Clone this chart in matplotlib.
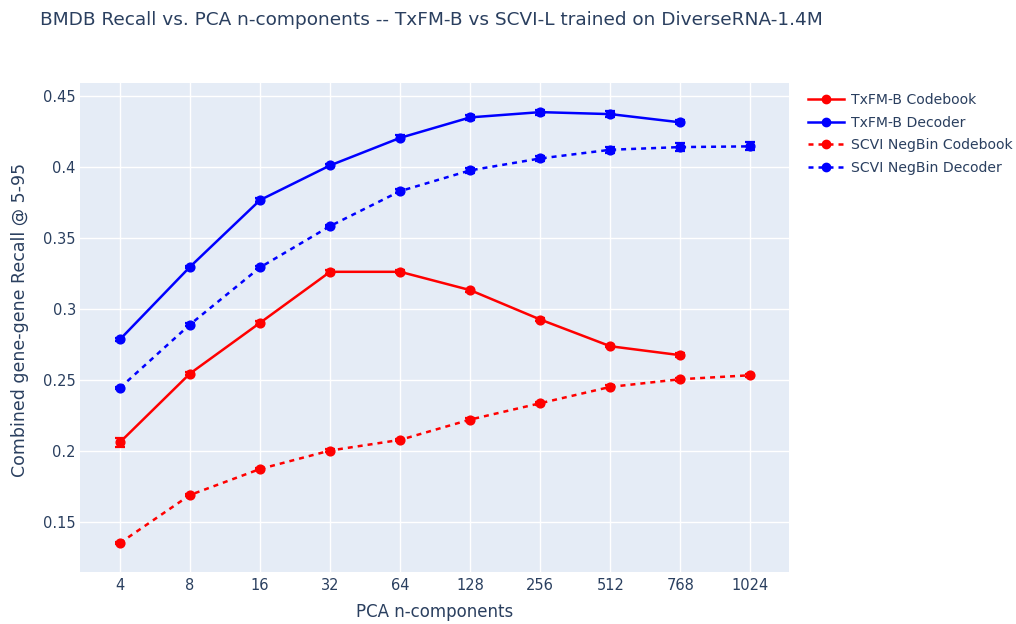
import matplotlib
matplotlib.use("Agg")
import matplotlib.pyplot as plt
from matplotlib.lines import Line2D

# categories on the x axis (PCA n-components)
n_components = ["4", "8", "16", "32", "64", "128", "256", "512", "768", "1024"]

# TxFM-B (no 1024 point)
txfm_codebook = [0.2063, 0.2547, 0.2904, 0.3263, 0.3263, 0.3134, 0.2927, 0.2739, 0.2676]
txfm_codebook_err = [0.003, 0.0012, 0.0012, 0.0012, 0.0010, 0.0010, 0.0010, 0.0008, 0.0015]
txfm_decoder = [0.2787, 0.3298, 0.3768, 0.4012, 0.4206, 0.4350, 0.4387, 0.4373, 0.4315]
txfm_decoder_err = [0.0008, 0.0008, 0.0012, 0.0010, 0.0018, 0.0015, 0.0018, 0.0020, 0.0015]

# SCVI NegBin
scvi_codebook = [0.1354, 0.1692, 0.1875, 0.2005, 0.2080, 0.2223, 0.2338, 0.2453, 0.2507, 0.2535]
scvi_codebook_err = [0.0010, 0.0008, 0.0008, 0.0008, 0.0008, 0.0010, 0.0010, 0.0010, 0.0010, 0.0012]
scvi_decoder = [0.2446, 0.2892, 0.3294, 0.3585, 0.3831, 0.3977, 0.4061, 0.4122, 0.4141, 0.4146]
scvi_decoder_err = [0.0005, 0.0008, 0.0008, 0.0008, 0.0015, 0.0015, 0.0018, 0.0022, 0.0028, 0.0028]

yticks = [0.15, 0.2, 0.25, 0.3, 0.35, 0.4, 0.45]
ytick_labels = ["0.15", "0.2", "0.25", "0.3", "0.35", "0.4", "0.45"]

series = [
    ("TxFM-B Codebook", txfm_codebook, txfm_codebook_err, "#ff0000", "-"),
    ("TxFM-B Decoder", txfm_decoder, txfm_decoder_err, "#0000ff", "-"),
    ("SCVI NegBin Codebook", scvi_codebook, scvi_codebook_err, "#ff0000", (0, (2, 2))),
    ("SCVI NegBin Decoder", scvi_decoder, scvi_decoder_err, "#0000ff", (0, (2, 2))),
]

text_color = "#2a3f5f"
plt.rcParams['font.family'] = ['DejaVu Sans']

fig = plt.figure(figsize=(10.16, 6.24), dpi=100)
ax = fig.add_axes([80/1016, 1-572/624, (789-80)/1016, (572-83)/624])
ax.set_facecolor("#e5ecf6")
for s in ax.spines.values():
    s.set_visible(False)

handles = []
for name, vals, errs, color, ls in series:
    xs = list(range(len(vals)))
    ax.plot(xs, vals, color=color, linestyle=ls, lw=1.8, zorder=3)
    ax.errorbar(xs, vals, yerr=errs, fmt='o', color=color, ms=6.3,
                elinewidth=1.5, capsize=3.8, capthick=1.6, zorder=4)
    handles.append(Line2D([0], [0], color=color, linestyle=ls, lw=1.8,
                          marker='o', ms=6, label=name))

ax.set_xlim(-0.57, 9.55)
ax.set_ylim(0.115, 0.4592)
ax.set_xticks(range(len(n_components)))
ax.set_xticklabels(n_components)
ax.set_yticks(yticks)
ax.set_yticklabels(ytick_labels)
ax.grid(True, color="white", lw=1)
ax.set_axisbelow(True)
ax.tick_params(length=0, labelsize=10.5, labelcolor=text_color)
ax.tick_params(axis='x', pad=4)
ax.tick_params(axis='y', pad=3)

fig.text(40/1016, 1-20/624, "BMDB Recall vs. PCA n-components -- TxFM-B vs SCVI-L trained on DiverseRNA-1.4M",
         fontsize=13.3, color=text_color, va='center', ha='left')
fig.text(435/1016, 1-612/624, "PCA n-components", fontsize=12, color=text_color,
         ha='center', va='center')
fig.text(20/1016, 1-320/624, "Combined gene-gene Recall @ 5-95", fontsize=12.5, color=text_color,
         ha='center', va='center', rotation=90)

fig.legend(handles=handles, loc='upper left', bbox_to_anchor=(808/1016, 1-93/624),
           frameon=False, fontsize=10.1, labelcolor=text_color, handlelength=2.6,
           handletextpad=0.5, labelspacing=0.62, borderpad=0, borderaxespad=0)

fig.savefig("out.png", dpi=100, facecolor="white")
